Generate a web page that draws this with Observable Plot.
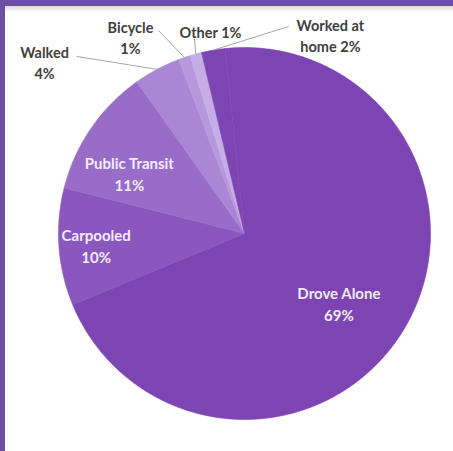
<!DOCTYPE html>
<html>
<head>
<meta charset="utf-8">
<script src="https://cdn.jsdelivr.net/npm/d3@7"></script>
<script src="https://cdn.jsdelivr.net/npm/@observablehq/plot@0.6"></script>
<style>
  html, body { margin: 0; padding: 0; background: #ffffff; }
  #frame { position: relative; width: 453px; height: 451px; overflow: hidden;
           background: #ffffff; box-shadow: inset 5px 6px 0 #6a4fa5; }
  #topshade { position: absolute; left: 5px; right: 0; top: 6px; height: 6px;
              background: linear-gradient(#d9d9d9, #ffffff); }
  #chart { position: absolute; left: 0; top: 0; }
</style>
</head>
<body>
<div id="frame"><div id="topshade"></div><div id="chart"></div></div>
<script>
// ---- data ----
const categories = ["Drove Alone", "Carpooled", "Public Transit", "Walked", "Bicycle", "Other", "Worked at home"];
const percents   = [69, 10, 11, 4, 1, 1, 2];
const labelTexts = ["Drove Alone\n69%", "Carpooled\n10%", "Public Transit\n11%", "Walked\n4%", "Bicycle\n1%", "Other 1%", "Worked at\nhome 2%"];

// ---- styles / layout ----
const sliceColors = ["#7d45b4", "#8a57be", "#9a6cc9", "#aa86d4", "#b898dc", "#c7ade6", "#7d45b4"];
const startDeg = -6;
const insideLayout = { // angle nudge (deg) and radius factor
  "Drove Alone": {da: 5.6, rf: 0.63},
  "Carpooled": {da: -0.4, rf: 0.80},
  "Public Transit": {da: -6.6, rf: 0.70}
};
const outsideLayout = { // label anchor and leader start, in pie-radius units
  "Walked":         {lx: -1.075, ly: 0.925, sx: -0.903, sy: 0.952},
  "Bicycle":        {lx: -0.613, ly: 1.059, sx: -0.462, sy: 1.091},
  "Other":          {lx: -0.183, ly: 1.089, sx: -0.269, sy: 1.048},
  "Worked at home": {lx: 0.462,  ly: 1.070, sx: 0.237,  sy: 1.113}
};

// ---- geometry from data ----
const total = d3.sum(percents);
const rad = d => d * Math.PI / 180;
let acc = startDeg;
const slices = categories.map((name, i) => {
  const span = percents[i] / total * 360;
  const s = {name, a0: acc, a1: acc + span, mid: acc + span / 2, label: labelTexts[i], i};
  acc += span;
  return s;
});
const slicePts = [];
for (const s of slices) {
  slicePts.push({name: s.name, x: 0, y: 0});
  const n = Math.max(2, Math.ceil((s.a1 - s.a0) / 0.5));
  for (let k = 0; k <= n; k++) {
    const a = rad(s.a0 + (s.a1 - s.a0) * k / n);
    slicePts.push({name: s.name, x: Math.sin(a), y: Math.cos(a)});
  }
  slicePts.push({name: s.name, x: 0, y: 0});
}
const inside = slices.filter(s => insideLayout[s.name]).map(s => {
  const L = insideLayout[s.name], a = rad(s.mid + L.da);
  return {text: s.label, x: L.rf * Math.sin(a), y: L.rf * Math.cos(a)};
});
const outside = slices.filter(s => outsideLayout[s.name]).map(s => {
  const L = outsideLayout[s.name], a = rad(s.mid);
  return {text: s.label, x: L.lx, y: L.ly, x1: L.sx, y1: L.sy, x2: Math.sin(a), y2: Math.cos(a)};
});

const chart = Plot.plot({
  width: 453, height: 451,
  marginLeft: 58, marginRight: 23, marginTop: 47, marginBottom: 32,
  x: {domain: [-1, 1], axis: null},
  y: {domain: [-1, 1], axis: null},
  color: {domain: categories, range: sliceColors},
  style: {background: "transparent", fontFamily: "Lato, 'Open Sans', sans-serif"},
  marks: [
    Plot.line(slicePts, {x: "x", y: "y", z: "name", fill: "name", stroke: "name", strokeWidth: 0.6, curve: "linear"}),
    Plot.link(outside, {x1: "x1", y1: "y1", x2: "x2", y2: "y2", stroke: "#a6a6a6", strokeWidth: 1}),
    Plot.text(inside, {x: "x", y: "y", text: "text", fill: "#f3ecfa", fontSize: 15, fontWeight: "bold", lineHeight: 1.45}),
    Plot.text(outside, {x: "x", y: "y", text: "text", fill: "#404040", fontSize: 14.5, fontWeight: "bold", lineHeight: 1.5})
  ]
});
document.getElementById("chart").appendChild(chart);
</script>
</body>
</html>
